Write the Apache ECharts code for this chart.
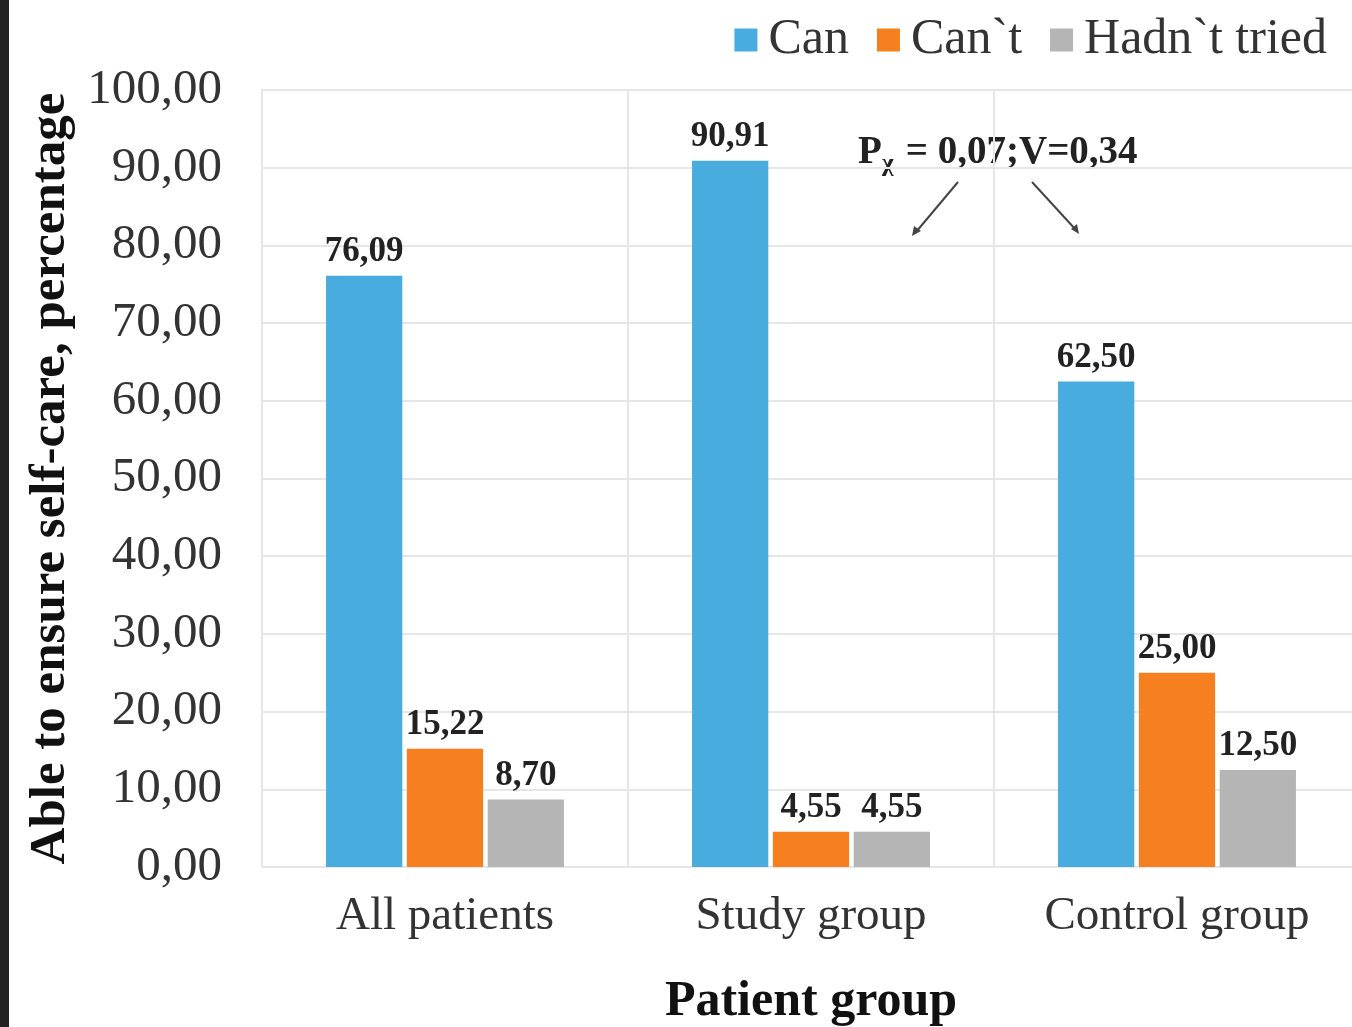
<!DOCTYPE html>
<html>
<head>
<meta charset="utf-8">
<script src="https://cdn.jsdelivr.net/npm/echarts@6/dist/echarts.min.js"></script>
<style>
html, body { margin: 0; padding: 0; background: #fff; }
#barchart { width: 1352px; height: 1027px; }
</style>
</head>
<body>
<div id="barchart"></div>
<script>
var categories = ['All patients', 'Study group', 'Control group'];
var seriesNames = ['Can', 'Can`t', 'Hadn`t tried'];
var canValues = [76.09, 90.91, 62.50];
var cantValues = [15.22, 4.55, 25.00];
var notTriedValues = [8.70, 4.55, 12.50];
var colors = ['#48ACDE', '#F6801F', '#B5B5B5'];

var serif = '"Liberation Serif", "DejaVu Serif", serif';

function fmt(v) {
    return Number(v).toFixed(2).replace('.', ',');
}

var myChart = echarts.init(document.getElementById('barchart'));

function makeSeries(name, data) {
    return {
        name: name,
        type: 'bar',
        data: data,
        barGap: '6%',
        barCategoryGap: '35%',
        label: {
            show: true,
            position: 'top',
            distance: 6,
            fontFamily: serif,
            fontWeight: 'bold',
            fontSize: 35,
            color: '#222',
            formatter: function (p) { return fmt(p.value); }
        }
    };
}

// annotation text style
var noteFont = { fontFamily: serif, fontWeight: 'bold', fill: '#222' };

var option = {
    color: colors,
    animation: false,
    legend: {
        data: seriesNames,
        icon: 'rect',
        right: 20,
        top: 10,
        itemWidth: 23,
        itemHeight: 23,
        itemGap: 28,
        textStyle: { fontFamily: serif, fontSize: 50, color: '#333', padding: [0, 0, 0, 6] }
    },
    grid: {
        left: 262,
        width: 1098,
        top: 90,
        bottom: 160,
        outerBoundsMode: 'none'
    },
    xAxis: {
        type: 'category',
        data: categories,
        name: 'Patient group',
        nameLocation: 'middle',
        nameGap: 110,
        nameTextStyle: { fontFamily: serif, fontSize: 50, fontWeight: 'bold', color: '#111' },
        axisLine: { show: true, lineStyle: { color: '#e6e6e6', width: 2 } },
        axisTick: { show: false },
        splitLine: { show: true, lineStyle: { color: '#e6e6e6', width: 2 } },
        axisLabel: { fontFamily: serif, fontSize: 47, color: '#333', margin: 26 }
    },
    yAxis: {
        type: 'value',
        min: 0,
        max: 100,
        interval: 10,
        name: 'Able to ensure self-care, percentage',
        nameLocation: 'middle',
        nameGap: 186,
        nameTextStyle: { fontFamily: serif, fontSize: 51, fontWeight: 'bold', color: '#111' },
        axisLine: { show: true, lineStyle: { color: '#e6e6e6', width: 2 } },
        axisTick: { show: false },
        splitLine: { lineStyle: { color: '#e6e6e6', width: 2 } },
        axisLabel: {
            fontFamily: serif, fontSize: 49, color: '#333', margin: 40,
            formatter: fmt
        }
    },
    graphic: [
        { type: 'rect', left: 0, top: 0, shape: { width: 9, height: 1027 }, style: { fill: '#222' } },
        { type: 'text', left: 858, top: 133, style: Object.assign({ text: 'P', fontSize: 39 }, noteFont) },
        { type: 'text', left: 882, top: 152, style: Object.assign({ text: 'χ', fontSize: 25 }, noteFont) },
        { type: 'text', left: 896, top: 133, style: Object.assign({ text: ' = 0,07;V=0,34', fontSize: 39 }, noteFont) },
        { type: 'line', shape: { x1: 958, y1: 182, x2: 916, y2: 232 }, style: { stroke: '#444', lineWidth: 2 } },
        { type: 'polygon', shape: { points: [[912, 236], [914, 226], [921, 231]] }, style: { fill: '#444' } },
        { type: 'line', shape: { x1: 1032, y1: 182, x2: 1076, y2: 230 }, style: { stroke: '#444', lineWidth: 2 } },
        { type: 'polygon', shape: { points: [[1079, 234], [1071, 229], [1077, 224]] }, style: { fill: '#444' } }
    ],
    series: [
        makeSeries(seriesNames[0], canValues),
        makeSeries(seriesNames[1], cantValues),
        makeSeries(seriesNames[2], notTriedValues)
    ]
};
myChart.setOption(option);
</script>
</body>
</html>
